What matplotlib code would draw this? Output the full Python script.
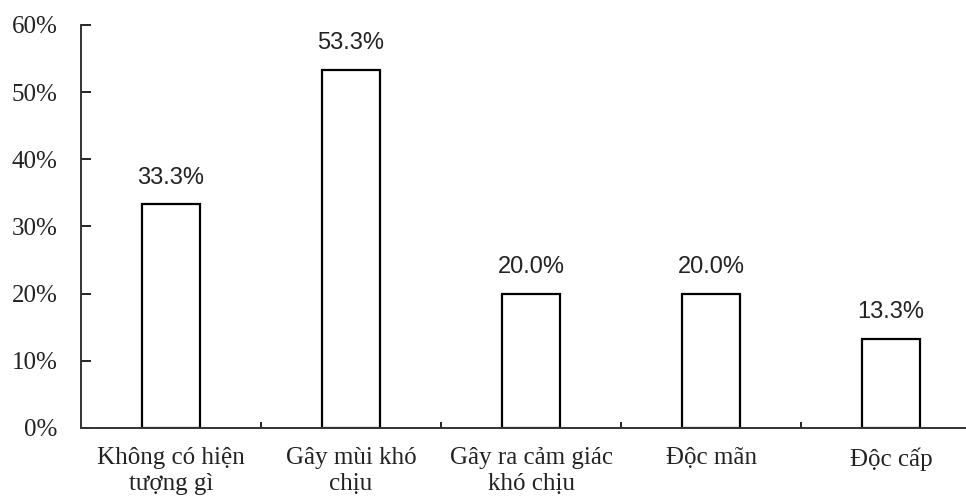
import numpy as np
import matplotlib.pyplot as plt
from matplotlib.ticker import FixedLocator, PercentFormatter

categories = ['Không có hiện\ntượng gì', 'Gây mùi khó\nchịu',
              'Gây ra cảm giác\nkhó chịu', 'Độc mãn', 'Độc cấp']
percent = [33.3, 53.3, 20.0, 20.0, 13.3]
y_ticks = [0, 10, 20, 30, 40, 50, 60]

serif = ['Liberation Serif', 'DejaVu Serif']
sans = ['Liberation Sans', 'DejaVu Sans']

fig = plt.figure(figsize=(9.66, 5.0), dpi=100)
# axes runs past the right edge of the canvas on purpose
ax = fig.add_axes([81 / 966, 72 / 500, 900 / 966, 403 / 500])

x = np.arange(len(categories))
ax.bar(x, percent, width=0.32, color='white', edgecolor='black', linewidth=1.6)

for xi, v in zip(x, percent):
    ax.annotate(f'{v:.1f}%', (xi, v), xytext=(0, 15), textcoords='offset points',
                ha='center', va='baseline', fontsize=17, family=sans, color='#222222')

ax.set_xlim(-0.5, len(categories) - 0.5)
ax.set_ylim(0, 60)

ax.set_yticks(y_ticks)
ax.yaxis.set_major_formatter(PercentFormatter(decimals=0))
ax.tick_params(axis='y', direction='in', length=7, width=1.2, pad=17, labelsize=18)

ax.set_xticks(x)
ax.set_xticklabels(categories, fontsize=18, linespacing=1.2)
ax.xaxis.set_minor_locator(FixedLocator(x[:-1] + 0.5))
ax.tick_params(axis='x', which='major', length=0, pad=14)
ax.tick_params(axis='x', which='minor', direction='in', length=4, width=1.2)

for lbl in ax.get_xticklabels() + ax.get_yticklabels():
    lbl.set_family(serif)
    lbl.set_color('#222222')

for side in ['top', 'right']:
    ax.spines[side].set_visible(False)
for side in ['left', 'bottom']:
    ax.spines[side].set_linewidth(1.4)
    ax.spines[side].set_color('#333333')

fig.savefig('out.png', dpi=100)
